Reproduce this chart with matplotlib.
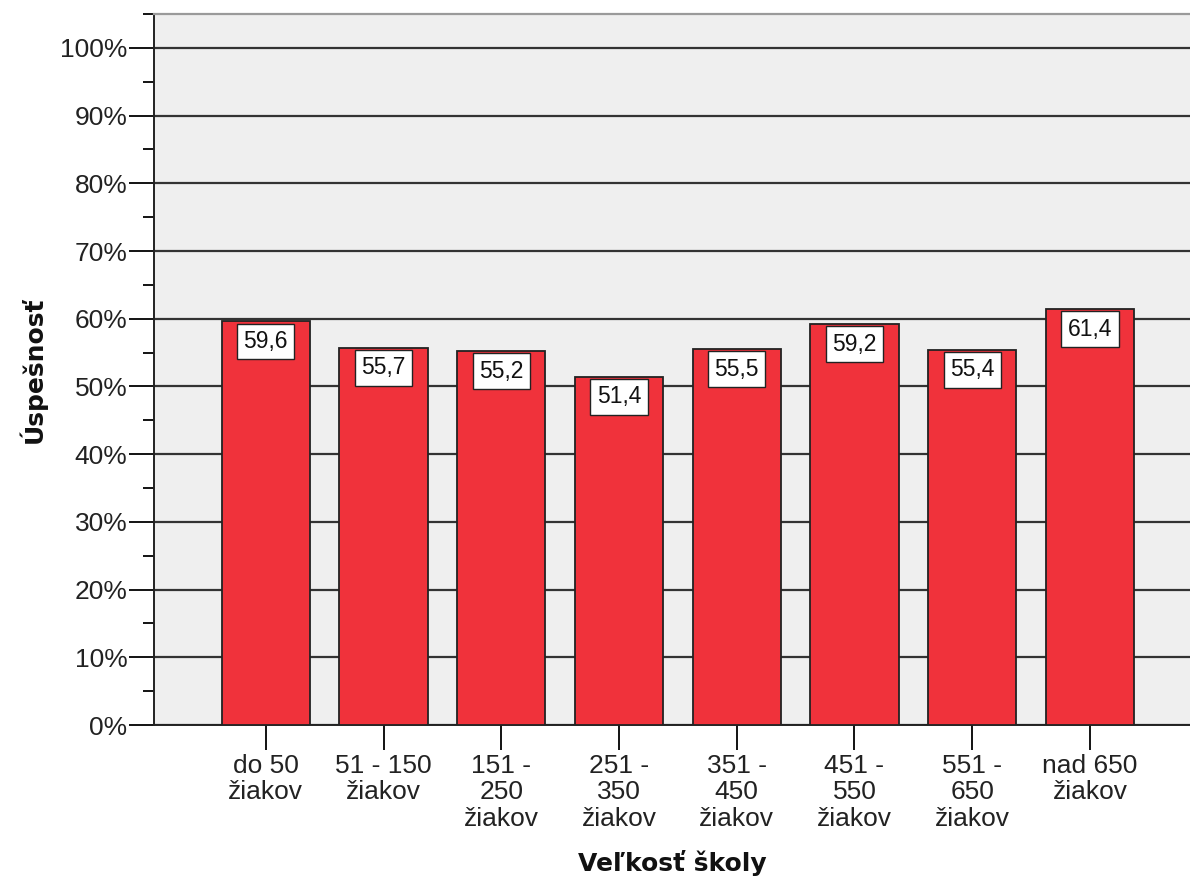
import matplotlib.pyplot as plt
from matplotlib.ticker import MultipleLocator, FuncFormatter

plt.rcParams['font.family'] = ['Liberation Sans', 'DejaVu Sans']

# school size groups and mean success rate (%)
categories = ["do 50\nžiakov", "51 - 150\nžiakov", "151 -\n250\nžiakov", "251 -\n350\nžiakov",
              "351 -\n450\nžiakov", "451 -\n550\nžiakov", "551 -\n650\nžiakov", "nad 650\nžiakov"]
success = [59.6, 55.7, 55.2, 51.4, 55.5, 59.2, 55.4, 61.4]

bar_color = "#f0323b"
bg_color = "#efefef"

fig = plt.figure(figsize=(11.9, 8.83), dpi=100)
ax = fig.add_axes([0.1294, 0.1789, 0.8706, 0.8052])
ax.set_facecolor(bg_color)

x = list(range(len(categories)))
ax.bar(x, success, width=0.75, color=bar_color, edgecolor="#222222", linewidth=1.3, zorder=3)

label_fs = 16.5
label_pad = 0.28
for xi, v in zip(x, success):
    ax.annotate(f"{v:.1f}".replace(".", ","), (xi, v),
                xytext=(0, -label_pad * label_fs - 1.5), textcoords="offset points",
                ha="center", va="top", fontsize=label_fs, color="#111111", zorder=5,
                bbox=dict(boxstyle=f"square,pad={label_pad}", facecolor="white",
                          edgecolor="#222222", linewidth=1))

ax.set_xlim(-0.95, 7.85)
ax.set_ylim(0, 105)
ax.yaxis.set_major_locator(MultipleLocator(10))
ax.yaxis.set_minor_locator(MultipleLocator(5))
ax.yaxis.set_major_formatter(FuncFormatter(lambda v, p: f"{v:.0f}%"))
ax.yaxis.grid(True, which="major", color="#333333", linewidth=1.6, zorder=1)
ax.set_axisbelow(True)

ax.set_xticks(x)
ax.set_xticklabels(categories, fontsize=19, color="#222222", linespacing=1.12)
ax.tick_params(axis="y", which="major", length=18, width=1.3, labelsize=19, labelcolor="#222222", pad=1)
ax.tick_params(axis="y", which="minor", length=8, width=1.3)
ax.tick_params(axis="x", length=18, width=1.3, pad=3)

for side in ("left", "bottom"):
    ax.spines[side].set_color("#222222")
    ax.spines[side].set_linewidth(1.4)
ax.spines["right"].set_visible(False)
ax.spines["top"].set_color("#9a9a9a")
ax.spines["top"].set_linewidth(1.6)

ax.set_ylabel("Úspešnosť", fontsize=18, fontweight="bold", family="DejaVu Sans",
              labelpad=10, color="#111111")
ax.set_xlabel("Veľkosť školy", fontsize=18, fontweight="bold", family="DejaVu Sans",
              labelpad=14, color="#111111")

fig.savefig("out.png", dpi=100, facecolor="white")
